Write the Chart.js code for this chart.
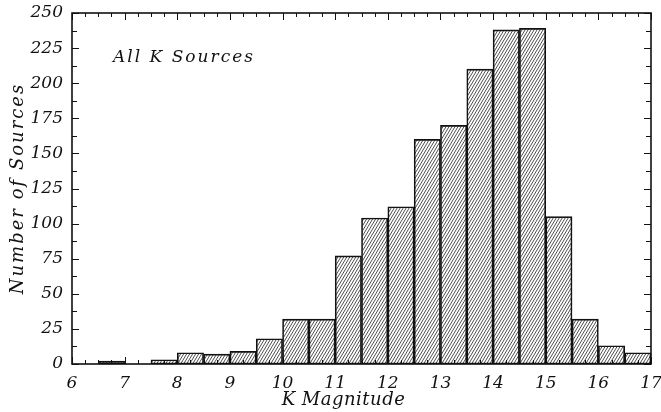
<!DOCTYPE html>
<html>
<head>
<meta charset="utf-8">
<script src="https://cdn.jsdelivr.net/npm/chart.js@4/dist/chart.umd.min.js"></script>
<style>
  html, body { margin: 0; padding: 0; background: #fff; }
  #wrap { width: 661px; height: 412px; }
</style>
</head>
<body>
<div id="wrap"><canvas id="kmag"></canvas></div>
<script>
// bin centres (0.5 mag bins) and counts
const binCenters = [6.75, 7.25, 7.75, 8.25, 8.75, 9.25, 9.75, 10.25, 10.75, 11.25, 11.75,
  12.25, 12.75, 13.25, 13.75, 14.25, 14.75, 15.25, 15.75, 16.25, 16.75];
const counts = [2, 0, 3, 8, 7, 9, 18, 32, 32, 77, 104, 112, 160, 170, 210, 238, 239, 105, 32, 13, 8];
const xTicks = [6, 7, 8, 9, 10, 11, 12, 13, 14, 15, 16, 17];
const yTicks = [0, 25, 50, 75, 100, 125, 150, 175, 200, 225, 250];

const serif = "'DejaVu Serif', serif";

// "////" hatching
function hatch() {
  const c = document.createElement('canvas');
  c.width = 3; c.height = 5;
  const g = c.getContext('2d');
  g.strokeStyle = '#222';
  g.lineWidth = 0.8;
  g.beginPath();
  [-3, 0, 3].forEach(x0 => { g.moveTo(x0, 5); g.lineTo(x0 + 3, 0); });
  g.stroke();
  return g.createPattern(c, 'repeat');
}

const frame = {
  id: 'frame',
  afterDatasetsDraw(chart) {
    const { ctx, chartArea: a, scales: { x, y } } = chart;
    ctx.save();
    ctx.strokeStyle = '#111';
    ctx.lineWidth = 1;
    ctx.beginPath();
    for (let i = 0; i <= 44; i++) {
      const v = xTicks[0] + i * 0.25;
      const px = Math.round(x.getPixelForValue(v)) + 0.5;
      const len = i % 4 === 0 ? 7 : 4;
      ctx.moveTo(px, a.bottom); ctx.lineTo(px, a.bottom - len);
      ctx.moveTo(px, a.top); ctx.lineTo(px, a.top + len);
    }
    for (let i = 0; i <= 20; i++) {
      const v = i * 12.5;
      const py = Math.round(y.getPixelForValue(v)) + 0.5;
      const len = i % 2 === 0 ? 7 : 5;
      ctx.moveTo(a.left, py); ctx.lineTo(a.left + len, py);
      ctx.moveTo(a.right, py); ctx.lineTo(a.right - len, py);
    }
    ctx.stroke();
    ctx.lineWidth = 1.6;
    ctx.strokeRect(a.left, a.top, a.right - a.left, a.bottom - a.top);

    ctx.fillStyle = '#111';
    ctx.textBaseline = 'middle';
    ctx.letterSpacing = '2px';
    ctx.font = 'italic 17px ' + serif;
    ctx.fillText('All K Sources', x.getPixelForValue(6.78), y.getPixelForValue(218));

    // axis titles
    ctx.textAlign = 'center';
    ctx.letterSpacing = '0.5px';
    ctx.font = 'italic 18px ' + serif;
    ctx.fillText('K Magnitude', x.getPixelForValue(11.5) - 18, 400);
    ctx.save();
    ctx.translate(18, (a.top + a.bottom) / 2);
    ctx.rotate(-Math.PI / 2);
    ctx.letterSpacing = '2px';
    ctx.fillText('Number of Sources', 0, 0);
    ctx.restore();
    ctx.restore();
  }
};

new Chart(document.getElementById('kmag'), {
  type: 'bar',
  data: {
    datasets: [{
      data: binCenters.map((c, i) => ({ x: c, y: counts[i] })),
      backgroundColor: hatch(),
      borderColor: '#111',
      borderWidth: 1,
      borderSkipped: false,
      barPercentage: 1,
      categoryPercentage: 1
    }]
  },
  options: {
    responsive: true,
    maintainAspectRatio: false,
    animation: false,
    layout: { padding: { top: 13, right: 10, bottom: 0, left: 0 } },
    plugins: { legend: { display: false }, tooltip: { enabled: false } },
    scales: {
      x: {
        type: 'linear',
        min: 6, max: 17,
        offset: false,
        afterBuildTicks: s => { s.ticks = xTicks.map(v => ({ value: v })); },
        afterFit: s => { s.height = 48; s.paddingLeft = 0; s.paddingRight = 0; },
        grid: { display: false, drawTicks: false },
        border: { display: false },
        ticks: { color: '#111', padding: 9, font: { family: serif, style: 'italic', size: 17 } }
      },
      y: {
        min: 0, max: 250,
        afterBuildTicks: s => { s.ticks = yTicks.map(v => ({ value: v })); },
        afterFit: s => { s.width = 72; s.paddingTop = 0; s.paddingBottom = 0; },
        grid: { display: false, drawTicks: false },
        border: { display: false },
        ticks: { color: '#111', padding: 9, font: { family: serif, style: 'italic', size: 17 } }
      }
    }
  },
  plugins: [frame]
});
</script>
</body>
</html>
